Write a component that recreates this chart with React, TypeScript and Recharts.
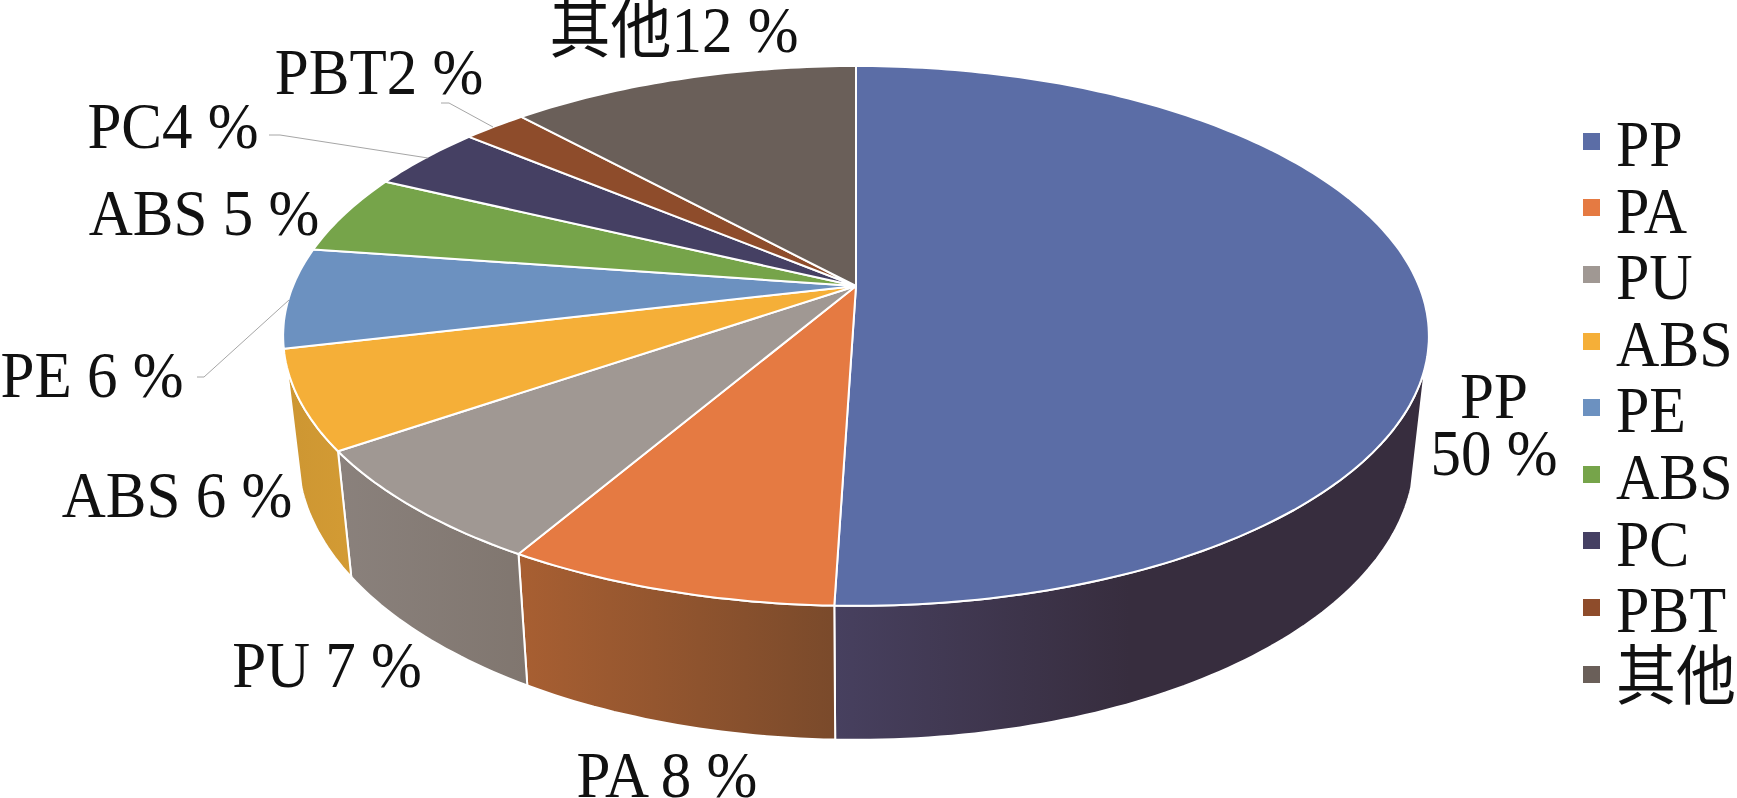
import React from "react";
import { PieChart, Pie, Legend } from "recharts";

const NAMES = ["PP", "PA", "PU", "ABS", "PE", "ABS", "PC", "PBT", "其他"];
const SHARES = [50.5, 7.9, 7.0, 5.9, 6.0, 4.8, 3.95, 2.15, 11.8];
const LABELS = ["PP\n50 %", "PA 8 %", "PU 7 %", "ABS 6 %", "PE 6 %", "ABS 5 %", "PC4 %", "PBT2 %", "其他12 %"];
const COLORS = ["#5b6da6", "#e57a42", "#a09893", "#f5af38", "#6c91c0", "#76a44a", "#454063", "#8e4c2b", "#6a5f59"];
const WALL_LEFT = ["#47405f", "#a85f32", "#8a817c", "#cd9632", "#6c91c0", "#76a44a", "#454063", "#8e4c2b", "#6a5f59"];
const WALL_RIGHT = ["#372d3e", "#7a4a2b", "#80766f", "#d39b34", "#6c91c0", "#76a44a", "#454063", "#8e4c2b", "#6a5f59"];

// label centre x / baseline y, and leader lines where the original has them
const LABEL_SPOTS = [
  [1494, 418],
  [667, 797],
  [327, 687],
  [177, 517],
  [92, 397],
  [204, 235],
  [173, 148],
  [379, 94],
  [674, 52],
];
const LEADERS: Record<number, string> = {
  4: "197,377 204,377 289,300",
  6: "269,135 280,135 428,158",
  7: "441,103 449,103 493,127",
};

const data = NAMES.map((name, i) => ({ name, value: SHARES[i], fill: COLORS[i] }));

const WIDTH = 1737;
const HEIGHT = 798;
const FONT = '"Liberation Serif", "Noto Sans CJK SC", serif';
const TEXT_STRETCH = 1.08; // the original type is a little taller than Liberation Serif

// perspective of the tilted disc
const PERSP = -0.185;
const FLATTEN = 0.463;
const rad = Math.PI / 180;

function rimPoint(cx: number, cy: number, r: number, angle: number) {
  const u = Math.cos(angle * rad);
  const v = -Math.sin(angle * rad);
  const w = 1 + PERSP * v;
  return { x: cx + (r * u) / w, y: cy + (r * FLATTEN * v) / w, v };
}

// the lower rim sits under the upper one and pulls in slightly towards the middle
function lowerPoint(p: { x: number; y: number; v: number }) {
  return { x: 870 + (p.x - 870) * 0.975, y: p.y + 115 + 19 * p.v };
}

function rimPath(s: number, e: number, map: (a: number) => { x: number; y: number }) {
  const pts = [];
  const n = Math.max(2, Math.ceil(Math.abs(e - s)));
  for (let i = 0; i <= n; i++) pts.push(map(s + ((e - s) * i) / n));
  return pts;
}

function TopSlice(props: any) {
  const { cx, cy, outerRadius, startAngle, endAngle, fill } = props;
  const pts = rimPath(startAngle, endAngle, (a) => rimPoint(cx, cy, outerRadius, a));
  const d = `M${cx},${cy} ` + pts.map((p) => `L${p.x.toFixed(1)},${p.y.toFixed(1)}`).join(" ") + " Z";
  return <path d={d} fill={fill} stroke="#fff" strokeWidth={2} strokeLinejoin="round" />;
}

// only the front of the disc shows its side; angles are Recharts' (90 = top, clockwise down)
const WALL_FROM = -17;
const WALL_TO = -163;

function WallSlice(props: any) {
  const { cx, cy, outerRadius, startAngle, endAngle, index } = props;
  const s = Math.min(startAngle, WALL_FROM);
  const e = Math.max(endAngle, WALL_TO);
  if (s <= e) return null;
  const top = rimPath(s, e, (a) => rimPoint(cx, cy, outerRadius, a));
  const bottom = top.map((_, i) => lowerPoint(rimPoint(cx, cy, outerRadius, s + ((e - s) * i) / (top.length - 1))));
  const all = [...top, ...bottom.reverse()];
  const d = "M" + all.map((p) => `${p.x.toFixed(1)},${p.y.toFixed(1)}`).join(" L") + " Z";
  const id = `wall-${index}`;
  return (
    <g>
      <defs>
        <linearGradient id={id} x1="0" y1="0" x2="1" y2="0">
          <stop offset="0" stopColor={WALL_LEFT[index]} />
          <stop offset={index === 0 ? 0.5 : 1} stopColor={WALL_RIGHT[index]} />
        </linearGradient>
      </defs>
      <path d={d} fill={`url(#${id})`} stroke="#fff" strokeWidth={2} strokeLinejoin="round" />
    </g>
  );
}

function SliceLabel(props: any) {
  const { index } = props;
  const [x, y] = LABEL_SPOTS[index];
  const lines = LABELS[index].split("\n");
  return (
    <g>
      {LEADERS[index] && <polyline points={LEADERS[index]} fill="none" stroke="#a6a6a6" strokeWidth={1} />}
      {lines.map((t, i) => (
        <text
          key={i}
          transform={`translate(${x},${y + i * 57}) scale(1,${TEXT_STRETCH})`}
          textAnchor="middle"
          fontFamily={FONT}
          fontSize={61}
          fill="#111"
        >
          {t}
        </text>
      ))}
    </g>
  );
}

function LegendList(props: any) {
  // both Pie series report here, the first set is enough
  const items = (props.payload || []).slice(0, NAMES.length);
  return (
    <div style={{ fontFamily: FONT, fontSize: 60, color: "#111" }}>
      {items.map((item: any, i: number) => (
        <div key={i} style={{ display: "flex", alignItems: "center", height: 66.6, lineHeight: "66.6px" }}>
          <span style={{ width: 17, height: 17, background: item.color, marginRight: 16, flex: "none" }} />
          <span style={{ display: "inline-block", position: "relative", top: 3, transform: `scaleY(${TEXT_STRETCH})` }}>
            {item.value}
          </span>
        </div>
      ))}
    </div>
  );
}

export default function App() {
  return (
    <div style={{ position: "absolute", left: 0, top: 0, width: WIDTH, height: HEIGHT, background: "#fff", overflow: "hidden" }}>
      <PieChart width={WIDTH} height={HEIGHT} margin={{ top: 0, right: 0, bottom: 0, left: 0 }}>
        <Pie
          data={data}
          dataKey="value"
          nameKey="name"
          cx={856}
          cy={286}
          outerRadius={563}
          startAngle={90}
          endAngle={-270}
          legendType="none"
          shape={WallSlice}
          isAnimationActive={false}
        />
        <Pie
          data={data}
          dataKey="value"
          nameKey="name"
          cx={856}
          cy={286}
          outerRadius={563}
          startAngle={90}
          endAngle={-270}
          shape={TopSlice}
          label={SliceLabel}
          labelLine={false}
          isAnimationActive={false}
        />
        <Legend
          layout="vertical"
          align="right"
          verticalAlign="top"
          itemSorter={null}
          content={LegendList}
          wrapperStyle={{ left: 1583, top: 108, width: 154, right: "auto" }}
        />
      </PieChart>
    </div>
  );
}
